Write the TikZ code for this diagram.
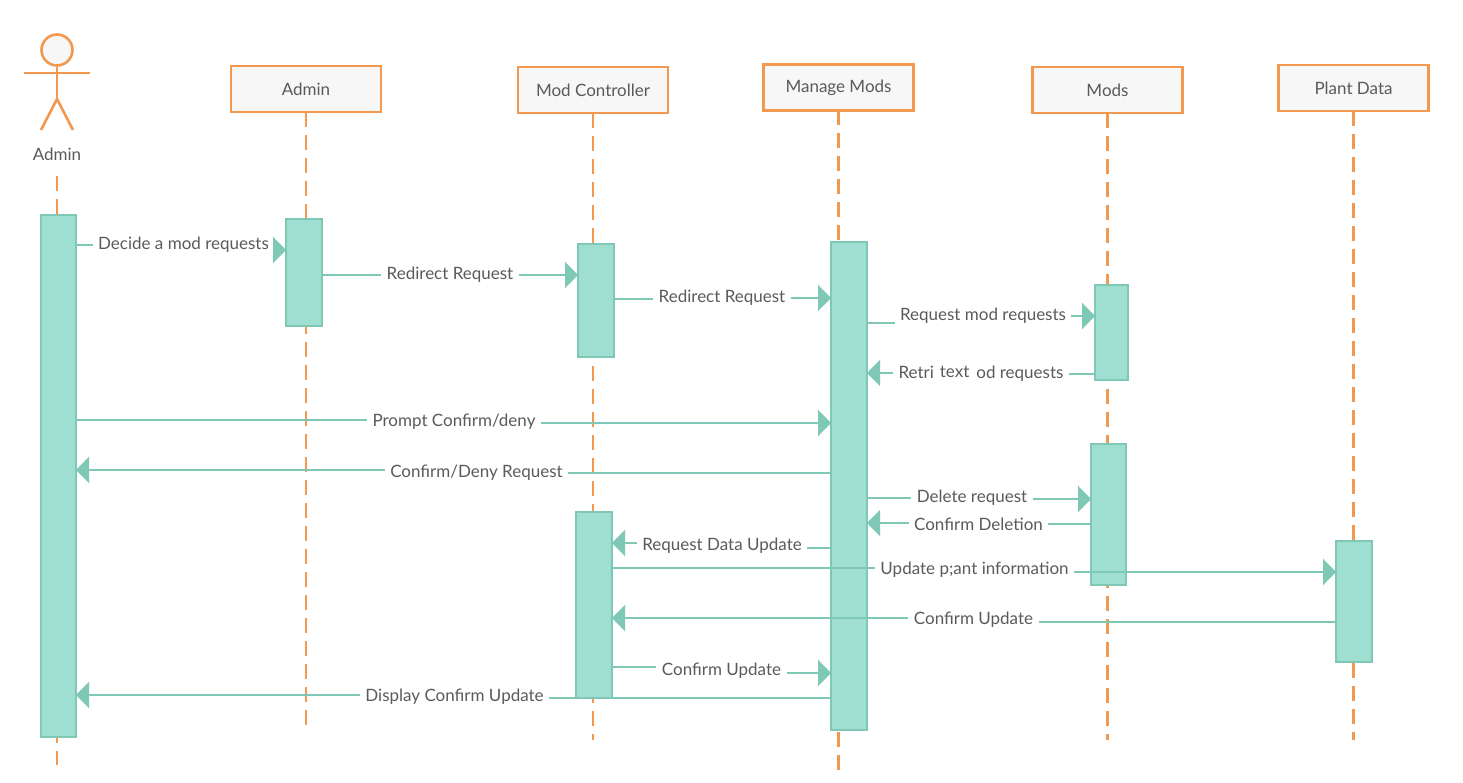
\documentclass[tikz,border=0pt]{standalone}
\usepackage{fontspec}
\setmainfont{Lato}
\usetikzlibrary{arrows.meta}
\definecolor{linecol}{HTML}{F2994F}
\definecolor{barfill}{HTML}{9FDFD1}
\definecolor{barline}{HTML}{7FC8B5}
\definecolor{txtcol}{HTML}{5A5A5A}
\tikzset{
 head/.style={draw=linecol,fill=white!97!black,line width=2.6pt,minimum width=150pt,minimum height=46pt,inner sep=0pt,outer sep=0pt,text=txtcol},
 lifeline/.style={draw=linecol,line width=2.6pt,dash pattern=on 15pt off 8pt},
 stick/.style={draw=linecol,line width=2.6pt},
 bar/.style={draw=barline,fill=barfill,line width=2.6pt,inner sep=0pt,outer sep=0pt},
 msglabel/.style={text=txtcol,inner xsep=5.5pt,inner ysep=0pt,outer sep=0pt},
 msg/.style={draw=barline,line width=2.4pt},
 msgarrow/.style={msg,-{Triangle[length=13pt,width=26pt]}}
}
\begin{document}
\begin{tikzpicture}[x=1pt,y=-1pt,font=\fontsize{17}{20}\selectfont]
 \useasboundingbox (0,0) rectangle (1463,783);
 % actor
 \node[circle,stick,fill=white!97!black,minimum size=31pt,inner sep=0pt] (stickhead) at (57,50) {};
 \coordinate (armL) at (24,73);
 \coordinate (armR) at (90,73);
 \coordinate (hip) at (57,99);
 \coordinate (footL) at (41,130);
 \coordinate (footR) at (73,130);
 \draw[stick] (stickhead.south) -- (hip);
 \draw[stick] (armL) -- (armR);
 \draw[stick] (footL) -- (hip) -- (footR);
 \node[text=txtcol] (actorname) at (57,154) {Admin};
 \coordinate (actortop) at (57,176);
 \coordinate (actorend) at (57,765);
 \draw[lifeline] (actortop) -- (actorend);
 % heads and their lifelines
 \foreach \n/\txt/\x/\y/\yend in {
  hAdmin/Admin/306/89/733,
  hCtl/Mod Controller/593/90/740,
  hManage/Manage Mods/838.5/87.5/772,
  hMods/Mods/1107.5/90/740,
  hPlant/Plant Data/1353.5/88/740} {
  \node[head] (\n) at (\x,\y) {\txt};
  \draw[lifeline] (\n.south) -- (\n.south |- 0,\yend);
 }
 % activation bars
 \foreach \n/\x/\y/\w/\h in {
  barAct/58.5/476/35/522,
  barAdmin/304/272.5/36/107,
  barCtlA/596/300.5/36/113,
  barManage/849/486/36/488,
  barModsA/1111.5/332.5/33/95,
  barModsB/1108.5/514.5/35/141,
  barCtlB/594/605/36/186,
  barPlant/1354/601.5/36/121} {
  \node[bar,minimum width=\w pt,minimum height=\h pt] (\n) at (\x,\y) {};
 }
 % messages going right
 \foreach \n/\txt/\x/\y/\a/\b/\ya/\yb in {
  mDecide/Decide a mod requests/183.5/245/barAct/barAdmin/245/250,
  mRedirA/Redirect Request/450/275/barAdmin/barCtlA/275/275,
  mRedirB/Redirect Request/722/298/barCtlA/barManage/299/298,
  mReqMods/Request mod requests/983/316/barManage/barModsA/323/316,
  mPrompt/{Prompt Confirm/deny}/454/422/barAct/barManage/420/423,
  mDelete/Delete request/972/498/barManage/barModsB/498/499,
  mUpdate/Update p;ant information/974.5/570/barCtlB/barPlant/568/572,
  mConfC/Confirm Update/721.5/671/barCtlB/barManage/667/673} {
  \node[msglabel] (\n) at (\x,\y) {\txt};
  \draw[msg] (\a.east |- 0,\ya) -- (\n.west |- 0,\ya);
  \draw[msgarrow] (\n.east |- 0,\yb) -- (\b.west |- 0,\yb);
 }
 % messages going left
 \foreach \n/\txt/\x/\y/\a/\b/\ya/\yb in {
  mRetr/{Retri\hspace{6pt}\raisebox{1pt}{text}\hspace{7pt}od requests}/981/374/barManage/barModsA/373/374,
  mConfD/{Confirm/Deny Request}/476.5/473/barAct/barManage/470/473,
  mConfDel/Confirm Deletion/978.5/524/barManage/barModsB/523/524,
  mReqData/Request Data Update/722/546/barCtlB/barManage/543/548,
  mConfB/Confirm Update/973.5/620/barCtlB/barPlant/618/622,
  mDisplay/Display Confirm Update/454.5/697/barAct/barManage/695/698} {
  \node[msglabel] (\n) at (\x,\y) {\txt};
  \draw[msgarrow] (\n.west |- 0,\ya) -- (\a.east |- 0,\ya);
  \draw[msg] (\n.east |- 0,\yb) -- (\b.west |- 0,\yb);
 }
\end{tikzpicture}
\end{document}
